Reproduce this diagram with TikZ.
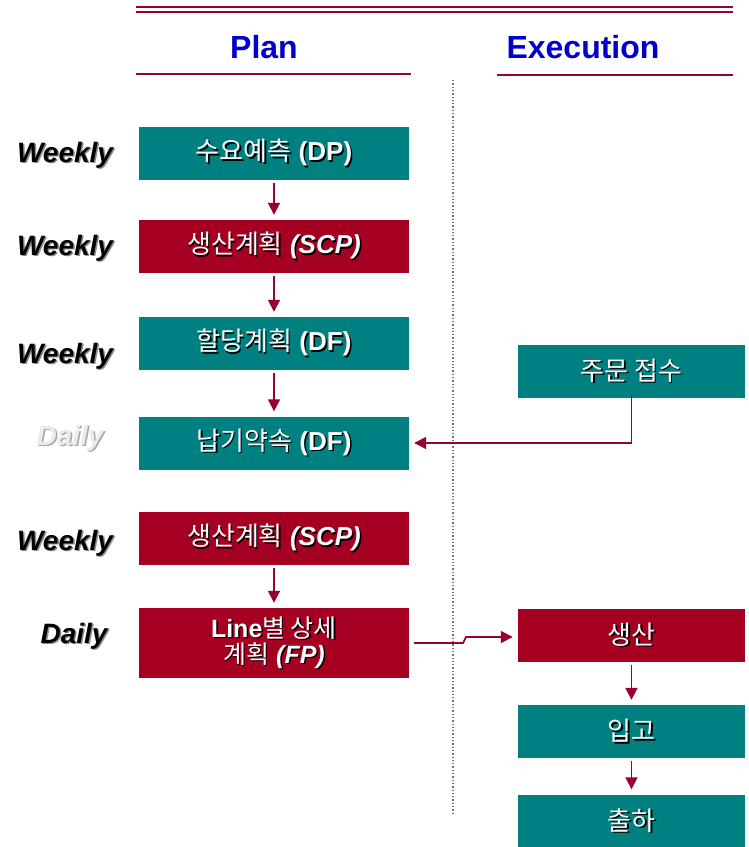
\documentclass[tikz,border=0pt]{standalone}
\usepackage{fontspec}
\setmainfont{Liberation Sans}
\newfontfamily\kr{Noto Sans CJK KR}
\usetikzlibrary{arrows.meta}
\definecolor{tealbox}{RGB}{0,128,128}
\definecolor{redbox}{RGB}{165,0,33}
\definecolor{headblue}{RGB}{0,0,204}
\definecolor{maroonline}{RGB}{153,0,51}
\newcommand\shd[2][black]{\leavevmode\rlap{\kern1.5pt\raisebox{-1.5pt}{\color{#1}#2}}#2}
\newcommand\K[1]{{\kr\mdseries #1}}
\begin{document}
\begin{tikzpicture}[x=1pt,y=-1pt,
  box/.style={rectangle,inner sep=0pt,text=white,font=\fontsize{26}{29}\selectfont\bfseries,align=center},
  lbox/.style={box,minimum width=270pt,minimum height=53pt},
  rbox/.style={box,minimum width=227pt,minimum height=53pt},
  freq/.style={font=\fontsize{28}{30}\selectfont\bfseries\itshape},
  head/.style={font=\fontsize{32}{34}\selectfont\bfseries,text=headblue},
  flow/.style={maroonline,line width=1.8pt,-{Triangle[length=12pt,width=12pt]}},
  rule/.style={maroonline,line width=2.2pt}]
\clip (0,0) rectangle (749,847);
\useasboundingbox (0,0) rectangle (749,847);
% header rules
\draw[rule] (136,7) -- (733,7);
\draw[rule] (136,12) -- (733,12);
\node[head] (plan) at (264,47) {Plan};
\node[head] (exec) at (583,47) {Execution};
\draw[rule] (136,74) -- (411,74);
\draw[rule] (497,75) -- (733,75);
% divider
\draw[black!55,line width=1.3pt,dotted] (453,80) -- (453,815);
% left column
\node[lbox,fill=tealbox] (dp) at (274,153.5) {\shd{\K{수요예측} (DP)}};
\node[lbox,fill=redbox] (scp1) at (274,246.5) {\shd{\K{생산계획} \textit{(SCP)}}};
\node[lbox,fill=tealbox] (df1) at (274,343.5) {\shd{\K{할당계획} (DF)}};
\node[lbox,fill=tealbox] (df2) at (274,443) {\shd{\K{납기약속} (DF)}};
\node[lbox,fill=redbox] (scp2) at (274,538.5) {\shd{\K{생산계획} \textit{(SCP)}}};
\node[lbox,fill=redbox,minimum height=70pt,font=\fontsize{25}{25}\selectfont\bfseries] (fp) at (274,643) {\shd{Line\K{별 상세}}\\[1pt]\shd{\K{계획} \textit{(FP)}}};
% right column
\node[rbox,fill=tealbox] (order) at (631.5,371.5) {\shd{\K{주문 접수}}};
\node[rbox,fill=redbox] (prod) at (631.5,635) {\shd{\K{생산}}};
\node[rbox,fill=tealbox] (stock) at (631.5,731.5) {\shd{\K{입고}}};
\node[rbox,fill=tealbox] (ship) at (631.5,821) {\shd{\K{출하}}};
% frequency labels
\node[freq] (f1) at (65,156) {\shd[black!45]{Weekly}};
\node[freq] (f2) at (65,249) {\shd[black!45]{Weekly}};
\node[freq] (f3) at (65,357) {\shd[black!45]{Weekly}};
\node[freq,text=black!8] (f4) at (70,439) {\shd[black!35]{Daily}};
\node[freq] (f5) at (65,544) {\shd[black!45]{Weekly}};
\node[freq] (f6) at (74,637) {\shd[black!45]{Daily}};
% flows
\draw[flow,shorten <=3pt,shorten >=5pt] (dp) -- (scp1);
\draw[flow,shorten <=3pt,shorten >=5pt] (scp1) -- (df1);
\draw[flow,shorten <=3pt,shorten >=5pt] (df1) -- (df2);
\draw[flow,shorten <=3pt,shorten >=5pt] (scp2) -- (fp);
\draw[flow,shorten <=3pt,shorten >=5pt] (prod) -- (stock);
\draw[flow,shorten <=3pt,shorten >=5pt] (stock) -- (ship);
\coordinate (oc) at ([yshift=3pt]order.south);
\draw[flow,shorten >=5pt] (oc) |- (df2.east);
\coordinate (fa) at ([xshift=5pt]fp.east);
\coordinate (fb) at (463,643);
\coordinate (fc) at (466,637);
\draw[flow,shorten >=5pt] (fa) -- (fb) -- (fc) -- (fc -| prod.west);
\end{tikzpicture}
\end{document}
